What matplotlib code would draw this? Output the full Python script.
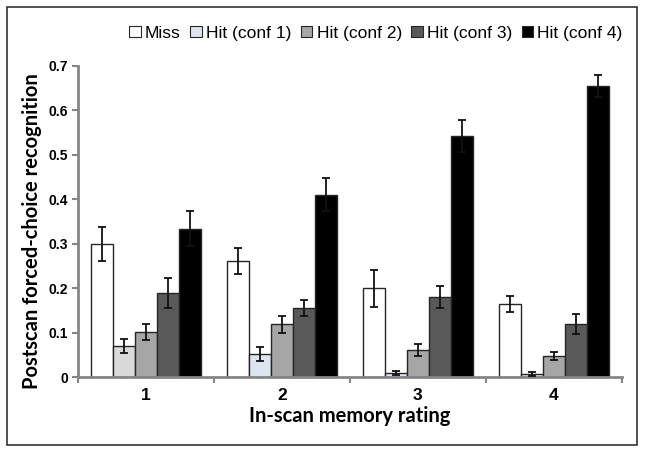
import matplotlib
matplotlib.use("Agg")
import matplotlib.pyplot as plt
from matplotlib.patches import Rectangle, Patch
import numpy as np

categories = ["1", "2", "3", "4"]
series = ["Miss", "Hit (conf 1)", "Hit (conf 2)", "Hit (conf 3)", "Hit (conf 4)"]
miss = [0.300, 0.261, 0.200, 0.164]
conf1 = [0.070, 0.052, 0.010, 0.007]
conf2 = [0.101, 0.119, 0.061, 0.047]
conf3 = [0.189, 0.155, 0.180, 0.120]
conf4 = [0.334, 0.410, 0.543, 0.655]
miss_err = [0.038, 0.030, 0.041, 0.018]
conf1_err = [0.015, 0.015, 0.004, 0.004]
conf2_err = [0.018, 0.019, 0.013, 0.009]
conf3_err = [0.034, 0.018, 0.024, 0.022]
conf4_err = [0.040, 0.037, 0.036, 0.024]

values = [miss, conf1, conf2, conf3, conf4]
errors = [miss_err, conf1_err, conf2_err, conf3_err, conf4_err]
colors = ["#ffffff", "#dce6f2", "#a6a6a6", "#595959", "#000000"]
conf1_group_colors = ["#d9d9d9", "#dce6f2", "#dce6f2", "#dce6f2"]

fig = plt.figure(figsize=(6.45, 4.55), dpi=100)
fig.patches.append(Rectangle((0.011, 0.022), 0.977, 0.962, transform=fig.transFigure,
                             fill=False, edgecolor="#333333", linewidth=1.2))
ax = fig.add_axes([0.121, 0.171, 0.843, 0.684])

x = np.arange(len(categories))
w = 0.162
for i, (vals, errs) in enumerate(zip(values, errors)):
    pos = x + (i - 2) * w
    cols = conf1_group_colors if i == 1 else [colors[i]] * len(categories)
    ax.bar(pos, vals, width=w, color=cols, edgecolor="#262626", linewidth=1.0, zorder=2)
    ax.errorbar(pos, vals, yerr=errs, fmt="none", ecolor="#111111", elinewidth=1.3,
                capsize=3, capthick=1.3, zorder=3)

ax.set_xlim(-0.5, len(categories) - 0.5)
ax.set_ylim(0, 0.7)
ax.set_yticks(np.arange(0, 0.71, 0.1))
ax.set_yticklabels(["0", "0.1", "0.2", "0.3", "0.4", "0.5", "0.6", "0.7"],
                   fontsize=10, fontweight="bold", family="Liberation Sans")
ax.set_xticks(x)
ax.set_xticklabels(categories, fontsize=12.5, fontweight="bold", family="Liberation Sans")
ax.set_xticks(np.arange(-0.5, len(categories), 1.0), minor=True)
ax.tick_params(axis="x", which="major", length=0, pad=8)
ax.tick_params(axis="x", which="minor", length=4, width=1.5, color="#868686", direction="out")
ax.tick_params(axis="y", length=4, width=1.5, color="#868686", direction="out", pad=3)

for s in ["top", "right"]:
    ax.spines[s].set_visible(False)
for s in ["left", "bottom"]:
    ax.spines[s].set_color("#868686")
    ax.spines[s].set_linewidth(2)

ax.set_xlabel("In-scan memory rating", fontsize=14.5, fontweight="bold", family="Lato", labelpad=2)
ax.set_ylabel("Postscan forced-choice recognition", fontsize=14.5, fontweight="bold", family="Lato")
ax.yaxis.set_label_coords(-0.066, 0.468)

handles = [Patch(facecolor=c, edgecolor="#262626", linewidth=0.8) for c in colors]
fig.legend(handles, series, loc="center", bbox_to_anchor=(0.583, 0.927), ncol=5, frameon=False,
           prop={"family": "Liberation Sans", "size": 12.5}, handlelength=0.65, handleheight=0.65,
           handletextpad=0.25, columnspacing=0.55)

fig.savefig("out.png", dpi=100)
